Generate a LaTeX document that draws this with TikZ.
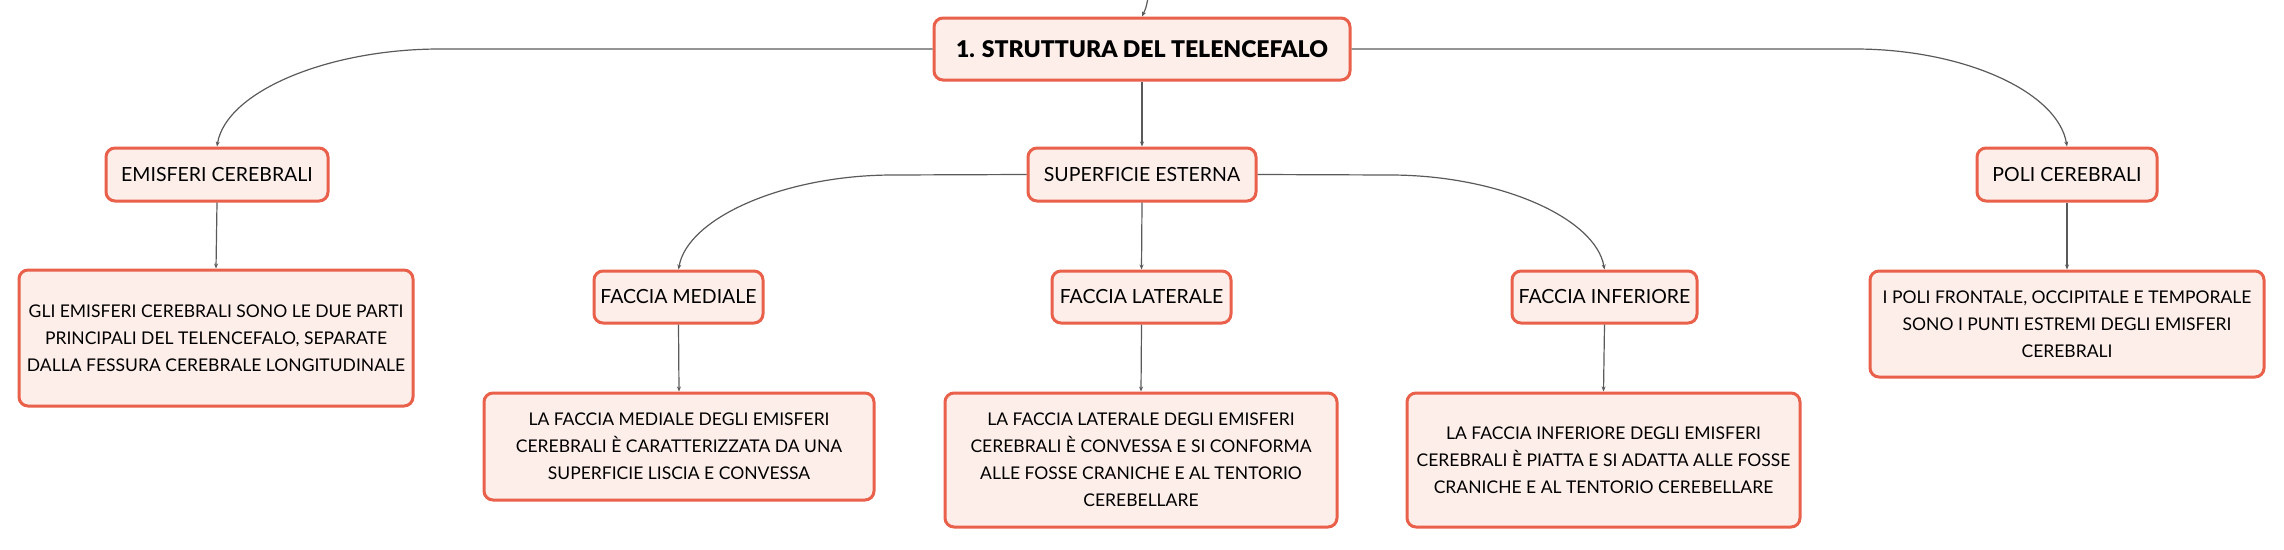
\documentclass[tikz,border=0pt]{standalone}
\usepackage{fontspec}
\setmainfont{Lato}
\newfontfamily\rootfont{Lato Black}
\usetikzlibrary{arrows.meta,calc}
\definecolor{boxborder}{HTML}{E9604B}
\definecolor{boxfill}{HTML}{FDEEE9}
\definecolor{linkgray}{HTML}{5A5A5A}
\begin{document}
\begin{tikzpicture}[x=1pt,y=-1pt,
  box/.style={draw=boxborder,fill=boxfill,line width=3pt,rounded corners=9pt,
    inner sep=0pt,align=center,text=black},
  head/.style={box,font=\fontsize{19.5}{24}\selectfont},
  rootbox/.style={box,font=\fontsize{23}{27}\rootfont},
  detail/.style={box,font=\fontsize{17.5}{27}\selectfont},
  link/.style={draw=linkgray,line width=1.2pt,-{Stealth[length=5pt,width=4pt]}}]
\useasboundingbox (0,0) rectangle (2284,549);

\node[rootbox,minimum width=416pt,minimum height=62pt] (root) at (1142,49) {1. STRUTTURA DEL TELENCEFALO};

\node[head,minimum width=228pt,minimum height=53pt] (se) at (1142,174.5) {SUPERFICIE ESTERNA};
\node[head,minimum width=222pt,minimum height=53pt] (emis) at (217,174.5) {EMISFERI CEREBRALI};
\node[head,minimum width=180pt,minimum height=53pt] (poli) at (2067,174.5) {POLI CEREBRALI};

\node[detail,minimum width=394pt,minimum height=136pt] (emisd) at (216,338)
  {GLI EMISFERI CEREBRALI SONO LE DUE PARTI\\PRINCIPALI DEL TELENCEFALO, SEPARATE\\DALLA FESSURA CEREBRALE LONGITUDINALE};
\node[detail,minimum width=394pt,minimum height=106pt] (polid) at (2067,324)
  {I POLI FRONTALE, OCCIPITALE E TEMPORALE\\SONO I PUNTI ESTREMI DEGLI EMISFERI\\CEREBRALI};

\node[head,minimum width=169pt,minimum height=52pt] (med) at (678.5,297) {FACCIA MEDIALE};
\node[head,minimum width=179pt,minimum height=52pt] (lat) at (1141.5,297) {FACCIA LATERALE};
\node[head,minimum width=185pt,minimum height=52pt] (inf) at (1604.5,297) {FACCIA INFERIORE};

\node[detail,minimum width=390pt,minimum height=107pt] (medd) at (679,446.5)
  {LA FACCIA MEDIALE DEGLI EMISFERI\\CEREBRALI È CARATTERIZZATA DA UNA\\SUPERFICIE LISCIA E CONVESSA};
\node[detail,minimum width=392pt,minimum height=134pt] (latd) at (1141,460)
  {LA FACCIA LATERALE DEGLI EMISFERI\\CEREBRALI È CONVESSA E SI CONFORMA\\ALLE FOSSE CRANICHE E AL TENTORIO\\CEREBELLARE};
\node[detail,minimum width=393pt,minimum height=134pt] (infd) at (1603.5,460)
  {LA FACCIA INFERIORE DEGLI EMISFERI\\CEREBRALI È PIATTA E SI ADATTA ALLE FOSSE\\CRANICHE E AL TENTORIO CEREBELLARE};

% incoming link from above
\coordinate (topin) at (1148,-2);
\draw[link] (topin) .. controls (1146,8) .. (root.north);

% root to children
\draw[link] (root.south) -- (se.north);
\coordinate (rl) at (440,49);
\coordinate (rr) at (1855,49);
\draw[link] (root.west) -- (rl) .. controls ($(rl)+(-112,0)$) and ($(emis.north)+(9,-55)$) .. (emis.north);
\draw[link] (root.east) -- (rr) .. controls ($(rr)+(108,0)$) and ($(poli.north)+(-9,-55)$) .. (poli.north);

% SE to faces
\draw[link] (se.south) -- (lat.north);
\coordinate (sl) at (893,175);
\coordinate (sr) at (1390,175);
\draw[link] (se.west) -- (sl) .. controls ($(sl)+(-108,0)$) and ($(med.north)+(9,-52)$) .. (med.north);
\draw[link] (se.east) -- (sr) .. controls ($(sr)+(108,0)$) and ($(inf.north)+(-9,-52)$) .. (inf.north);

% to details
\draw[link] (emis.south) -- (emisd.north);
\draw[link] (poli.south) -- (polid.north);
\draw[link] (med.south) -- (medd.north);
\draw[link] (lat.south) -- (latd.north);
\draw[link] (inf.south) -- (infd.north);
\end{tikzpicture}
\end{document}
